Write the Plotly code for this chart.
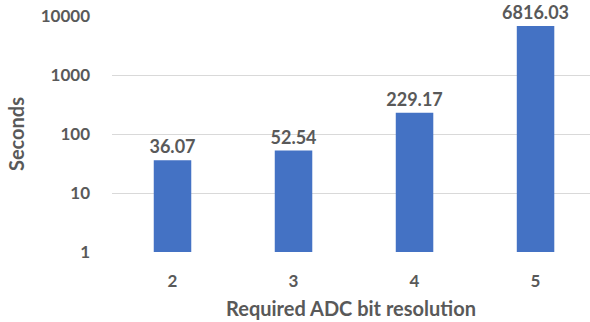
import plotly.graph_objects as go

categories = ["2", "3", "4", "5"]
seconds = [36.07, 52.54, 229.17, 6816.03]
labels = ["36.07", "52.54", "229.17", "6816.03"]
y_ticks = [1, 10, 100, 1000, 10000]
y_tick_text = ["1", "10", "100", "1000", "10000"]

FONT = "Lato"
GRAY = "#595959"

fig = go.Figure(go.Bar(
    x=categories, y=seconds, text=labels, textposition="outside",
    constraintext="none",
    marker=dict(color="#4472C4", line=dict(width=0)),
    textfont=dict(family=FONT, size=18, color=GRAY, weight="bold"),
    cliponaxis=False, width=0.31,
))

fig.update_layout(
    width=590, height=322,
    margin=dict(l=112, r=0, t=16, b=70),
    paper_bgcolor="white", plot_bgcolor="white",
    font=dict(family=FONT, color=GRAY, size=15, weight="bold"),
    showlegend=False,
    xaxis=dict(
        type="category", range=[-0.5, 3.45], automargin=False,
        showgrid=False, zeroline=False, showline=False, ticks="",
        ticklabelstandoff=17,
        tickfont=dict(family=FONT, size=17, color=GRAY, weight="bold"),
        title=dict(text="Required ADC bit resolution", standoff=11,
                   font=dict(family=FONT, size=20, color=GRAY, weight="bold")),
    ),
    yaxis=dict(
        type="log", range=[0, 4.003], tickvals=y_ticks, ticktext=y_tick_text,
        automargin=False, ticklabeloverflow="allow",
        showgrid=True, gridcolor="#D9D9D9", gridwidth=1,
        zeroline=False, showline=False, ticks="", ticklabelstandoff=21,
        tickfont=dict(family=FONT, size=17, color=GRAY, weight="bold"),
        title=dict(text="Seconds", standoff=10,
                   font=dict(family=FONT, size=20, color=GRAY, weight="bold")),
    ),
)

fig.write_html(
    "out.html",
    config={"displayModeBar": False},
    post_script="document.body.style.margin='0';document.body.style.overflow='hidden';",
)
